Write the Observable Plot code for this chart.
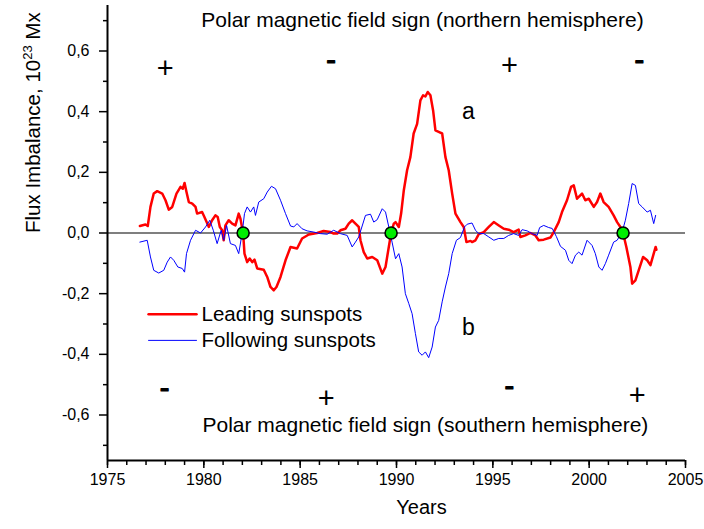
<!DOCTYPE html>
<html>
<head>
<meta charset="utf-8">
<script src="https://cdn.jsdelivr.net/npm/d3@7"></script>
<script src="https://cdn.jsdelivr.net/npm/@observablehq/plot@0.6"></script>
<style>
  html, body { margin: 0; padding: 0; background: #fff; }
  #chart { width: 704px; height: 529px; }
</style>
</head>
<body>
<div id="chart"></div>
<script>
// ---- data ----
const leadingYear = [1976.68,1976.97,1977.09,1977.23,1977.40,1977.58,1977.84,1978.01,1978.18,1978.36,1978.58,1978.79,1978.91,1979.00,1979.10,1979.22,1979.40,1979.57,1979.65,1979.91,1980.03,1980.26,1980.43,1980.60,1980.72,1980.83,1980.95,1981.03,1981.12,1981.29,1981.47,1981.64,1981.81,1981.90,1982.04,1982.11,1982.25,1982.38,1982.51,1982.63,1982.77,1983.11,1983.29,1983.46,1983.63,1983.77,1983.98,1984.24,1984.50,1984.84,1985.10,1985.45,1985.88,1986.22,1986.57,1986.74,1986.92,1987.09,1987.35,1987.52,1987.70,1987.87,1988.04,1988.13,1988.30,1988.48,1988.74,1989.00,1989.26,1989.43,1989.60,1989.72,1989.86,1989.95,1990.12,1990.24,1990.38,1990.55,1990.72,1990.89,1991.07,1991.24,1991.38,1991.50,1991.62,1991.76,1991.90,1992.02,1992.19,1992.37,1992.54,1992.71,1992.89,1993.06,1993.32,1993.49,1993.63,1993.84,1993.92,1994.10,1994.27,1994.53,1994.79,1995.05,1995.31,1995.57,1995.82,1996.08,1996.34,1996.43,1996.69,1996.95,1997.21,1997.38,1997.64,1997.99,1998.16,1998.42,1998.59,1998.85,1999.06,1999.20,1999.37,1999.63,1999.80,1999.98,2000.24,2000.41,2000.58,2000.75,2001.01,2001.27,2001.45,2001.62,2001.76,2001.93,2002.14,2002.23,2002.40,2002.57,2002.80,2003.01,2003.18,2003.35,2003.45,2003.49];
const leadingFlux = [0.023,0.028,0.023,0.086,0.130,0.138,0.130,0.108,0.077,0.086,0.130,0.152,0.146,0.165,0.135,0.102,0.097,0.086,0.064,0.069,0.053,0.020,0.042,0.058,0.053,0.020,0.009,-0.024,0.025,0.042,0.031,0.025,0.064,0.047,0.000,-0.068,-0.096,-0.084,-0.096,-0.088,-0.117,-0.121,-0.145,-0.178,-0.189,-0.178,-0.145,-0.090,-0.046,-0.051,-0.018,-0.005,0.000,0.007,0.003,-0.002,-0.002,0.009,0.014,0.031,0.042,0.031,0.020,-0.024,-0.063,-0.084,-0.079,-0.090,-0.134,-0.112,-0.046,0.000,0.031,0.036,0.020,0.064,0.141,0.207,0.250,0.328,0.360,0.437,0.454,0.450,0.465,0.454,0.404,0.338,0.333,0.328,0.250,0.207,0.130,0.064,0.036,0.020,-0.030,-0.026,-0.030,-0.024,-0.004,0.003,0.020,0.036,0.025,0.014,0.011,0.003,0.011,-0.013,-0.008,0.000,-0.008,-0.024,-0.022,-0.015,0.003,0.036,0.069,0.108,0.152,0.157,0.113,0.130,0.108,0.113,0.086,0.102,0.130,0.102,0.086,0.058,0.036,0.020,0.000,-0.046,-0.112,-0.167,-0.156,-0.123,-0.079,-0.090,-0.106,-0.068,-0.046,-0.055];

const followingYear = [1976.68,1977.06,1977.23,1977.40,1977.66,1977.92,1978.10,1978.27,1978.44,1978.65,1978.88,1979.00,1979.10,1979.31,1979.57,1979.83,1980.09,1980.31,1980.49,1980.69,1980.90,1981.03,1981.18,1981.38,1981.64,1981.81,1981.99,1982.11,1982.25,1982.42,1982.59,1982.68,1982.85,1983.11,1983.29,1983.51,1983.72,1983.98,1984.24,1984.50,1984.67,1984.84,1985.10,1985.36,1985.71,1986.05,1986.40,1986.74,1987.09,1987.44,1987.70,1987.87,1988.04,1988.39,1988.65,1988.82,1989.00,1989.26,1989.43,1989.60,1989.77,1989.95,1990.12,1990.29,1990.46,1990.64,1990.81,1990.98,1991.15,1991.33,1991.50,1991.67,1991.85,1992.02,1992.19,1992.37,1992.54,1992.71,1992.89,1993.11,1993.32,1993.53,1993.67,1993.92,1994.10,1994.27,1994.53,1994.79,1995.05,1995.31,1995.57,1995.82,1996.08,1996.34,1996.52,1996.78,1997.04,1997.30,1997.43,1997.64,1997.90,1998.08,1998.30,1998.51,1998.77,1998.94,1999.11,1999.29,1999.46,1999.63,1999.89,2000.15,2000.32,2000.50,2000.67,2000.84,2001.01,2001.27,2001.45,2001.71,2001.88,2002.05,2002.23,2002.40,2002.57,2002.75,2003.01,2003.18,2003.35,2003.45];
const followingFlux = [-0.030,-0.024,-0.079,-0.123,-0.132,-0.123,-0.096,-0.079,-0.090,-0.112,-0.117,-0.129,-0.068,-0.024,0.009,0.000,0.020,0.042,0.009,-0.035,0.009,-0.024,0.025,-0.035,-0.041,-0.068,0.000,0.064,0.086,0.069,0.086,0.058,0.102,0.113,0.135,0.154,0.146,0.108,0.064,0.023,0.020,0.031,0.014,0.007,0.003,-0.002,-0.004,0.009,-0.002,-0.008,-0.046,-0.030,-0.013,0.058,0.062,0.036,0.044,0.080,0.069,0.020,-0.030,-0.085,-0.068,-0.112,-0.200,-0.233,-0.266,-0.331,-0.392,-0.403,-0.392,-0.411,-0.376,-0.310,-0.288,-0.227,-0.178,-0.134,-0.068,-0.024,-0.015,0.020,0.029,0.033,0.009,-0.002,-0.002,-0.013,-0.024,-0.018,-0.018,-0.008,-0.002,-0.008,0.011,0.007,-0.002,-0.008,0.018,0.025,0.018,0.015,-0.012,-0.044,-0.057,-0.090,-0.101,-0.073,-0.063,-0.073,-0.024,-0.041,-0.068,-0.112,-0.123,-0.101,-0.073,-0.030,-0.024,0.003,0.042,0.097,0.163,0.157,0.097,0.086,0.069,0.075,0.031,0.058];

// polarity reversals (zero crossings marked with green dots)
const reversalYear = [1982.04, 1989.72, 2001.76];
const reversalFlux = [0, 0, 0];

// polar field sign annotations
const northSigns = ["+", "-", "+", "-"];
const northSignYear = [1977.99, 1986.60, 1995.86, 2002.61];
const northSignFlux = [0.541, 0.569, 0.552, 0.569];
const southSigns = ["-", "+", "-", "+"];
const southSignYear = [1977.96, 1986.35, 1995.86, 2002.50];
const southSignFlux = [-0.513, -0.546, -0.508, -0.535];

const panelLabels = ["a", "b"];
const panelLabelYear = [1993.73, 1993.73];
const panelLabelFlux = [0.401, -0.311];

const titles = ["Polar magnetic field sign (northern hemisphere)", "Polar magnetic field sign (southern hemisphere)"];
const titleYear = [1991.35, 1991.5];
const titleFlux = [0.70, -0.634];

const legendNames = ["Leading sunspots", "Following sunspots"];
const legendColors = ["#ff0000", "#0000ff"];
const legendWidths = [2.5, 1];
const legendYearStart = 1977.13, legendYearEnd = 1979.62, legendTextYear = 1979.88;
const legendFlux = [-0.268, -0.354];

// axis ticks
const xMajor = [1975, 1980, 1985, 1990, 1995, 2000, 2005];
const xMinor = d3.range(1975, 2006, 1);
const yMajor = [-0.6, -0.4, -0.2, 0, 0.2, 0.4, 0.6];
const yMinor = [-0.7, -0.5, -0.3, -0.1, 0.1, 0.3, 0.5, 0.7];

const yLabel = "Flux Imbalance, 10^23 Mx";
const xLabel = "Years";

// ---- build ----
const leading = leadingYear.map((x, i) => ({x, y: leadingFlux[i]}));
const following = followingYear.map((x, i) => ({x, y: followingFlux[i]}));
const reversals = reversalYear.map((x, i) => ({x, y: reversalFlux[i]}));
const north = northSigns.map((t, i) => ({t, x: northSignYear[i], y: northSignFlux[i]}));
const south = southSigns.map((t, i) => ({t, x: southSignYear[i], y: southSignFlux[i]}));
const panels = panelLabels.map((t, i) => ({t, x: panelLabelYear[i], y: panelLabelFlux[i]}));
const titleData = titles.map((t, i) => ({t, x: titleYear[i], y: titleFlux[i]}));
const legendLines = legendNames.flatMap((n, i) => [
  {n, x: legendYearStart, y: legendFlux[i]}, {n, x: legendYearEnd, y: legendFlux[i]}
]);
const legendText = legendNames.map((n, i) => ({n, x: legendTextYear, y: legendFlux[i]}));

const fmtY = d => {
  const v = Math.round(d * 10) / 10;
  return (v < 0 ? "-" : "") + Math.abs(v).toFixed(1).replace(".", ",");
};

const font = "'Liberation Sans', Arial, Helvetica, sans-serif";

const chart = Plot.plot({
  width: 704,
  height: 529,
  marginLeft: 107,
  marginRight: 19,
  marginTop: 5,
  marginBottom: 69,
  x: {domain: [1975, 2005]},
  y: {domain: [-0.75, 0.75]},
  style: {fontFamily: font, background: "white", color: "black", overflow: "visible"},
  marks: [
    Plot.ruleY([0], {stroke: "#555", strokeWidth: 1.3}),
    Plot.line(leading, {x: "x", y: "y", stroke: "#ff0000", strokeWidth: 2.5, strokeLinejoin: "round"}),
    Plot.line(following, {x: "x", y: "y", stroke: "#0000ff", strokeWidth: 1, strokeLinejoin: "round"}),
    Plot.dot(reversals, {x: "x", y: "y", r: 6, fill: "#00ee00", stroke: "black", strokeWidth: 1.6}),
    // axes
    Plot.axisX(xMinor, {tickSize: 5, tickFormat: () => "", strokeWidth: 1.5, label: null}),
    Plot.axisX(xMajor, {tickSize: 8, tickPadding: 5, fontSize: 16, strokeWidth: 1.5, tickFormat: d => String(d), label: null}),
    Plot.axisY(yMinor, {tickSize: 4, tickFormat: () => "", strokeWidth: 1.5, label: null}),
    Plot.axisY(yMajor, {tickSize: 8, tickPadding: 10, fontSize: 16, strokeWidth: 1.5, tickFormat: fmtY, label: null}),
    Plot.ruleX([1975], {stroke: "black", strokeWidth: 2}),
    Plot.ruleY([-0.75], {stroke: "black", strokeWidth: 2}),
    // annotations
    Plot.text(titleData, {x: "x", y: "y", text: "t", fontSize: 21, fill: "black"}),
    Plot.text(north, {x: "x", y: "y", text: "t", fontSize: 29, fill: "black", fontWeight: d => d.t === "-" ? "bold" : "normal", stroke: d => d.t === "-" ? "black" : "none", strokeWidth: 1.2}),
    Plot.text(south, {x: "x", y: "y", text: "t", fontSize: 29, fill: "black", fontWeight: d => d.t === "-" ? "bold" : "normal", stroke: d => d.t === "-" ? "black" : "none", strokeWidth: 1.2}),
    Plot.text(panels, {x: "x", y: "y", text: "t", fontSize: 23, fill: "black"}),
    // legend
    Plot.line(legendLines, {x: "x", y: "y", z: "n", stroke: d => legendColors[legendNames.indexOf(d.n)], strokeWidth: d => legendWidths[legendNames.indexOf(d.n)]}),
    Plot.text(legendText, {x: "x", y: "y", text: "n", textAnchor: "start", fontSize: 20.5, fill: "black"}),
    // axis titles
    Plot.text([yLabel], {frameAnchor: "left", dx: -74, rotate: -90, fontSize: 20.5, fill: "black"}),
    Plot.text([xLabel], {frameAnchor: "bottom", dx: 25, dy: 53, fontSize: 20, fill: "black"})
  ]
});

// superscript in the y-axis title
chart.querySelectorAll("text").forEach(t => {
  if (t.textContent === yLabel) {
    t.textContent = "";
    const ns = "http://www.w3.org/2000/svg";
    const a = document.createElementNS(ns, "tspan"); a.textContent = "Flux Imbalance, 10";
    const b = document.createElementNS(ns, "tspan"); b.textContent = "23"; b.setAttribute("dy", "-8"); b.setAttribute("font-size", "13");
    const c = document.createElementNS(ns, "tspan"); c.textContent = " Mx"; c.setAttribute("dy", "8");
    t.append(a, b, c);
  }
});

document.getElementById("chart").appendChild(chart);
</script>
</body>
</html>
